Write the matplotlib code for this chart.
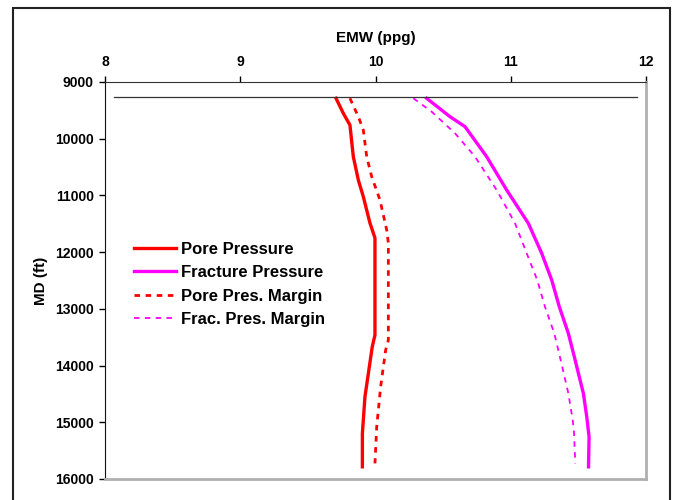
import matplotlib
matplotlib.use('Agg')
import matplotlib.pyplot as plt
from matplotlib.patches import Rectangle

plt.rcParams['font.family'] = ['Liberation Sans', 'DejaVu Sans']
plt.rcParams['font.weight'] = 'bold'

# depth (ft) and EMW (ppg)
pore_md = [9287, 9552, 9758, 10317, 10728, 11023, 11487, 11751, 13462, 13668, 14550, 15196, 15785]
pore_emw = [9.708, 9.762, 9.811, 9.836, 9.873, 9.910, 9.959, 9.996, 9.996, 9.976, 9.922, 9.903, 9.903]

frac_md = [9287, 9612, 9788, 10317, 10905, 11492, 12021, 12492, 12963, 13432, 13845,
           14490, 14903, 15256, 15785]
frac_emw = [10.378, 10.551, 10.662, 10.822, 10.970, 11.130, 11.229, 11.303, 11.359, 11.426,
            11.470, 11.537, 11.562, 11.579, 11.575]

pore_m_md = [9287, 9612, 9847, 10317, 10670, 11081, 11610, 11840, 13550, 13727, 14374,
             15079, 15725]
pore_m_emw = [9.811, 9.873, 9.910, 9.935, 9.972, 10.033, 10.083, 10.095, 10.095, 10.075,
              10.038, 10.009, 9.996]

frac_m_md = [9287, 9523, 9905, 10317, 10905, 11492, 12021, 12492, 12963, 13432, 13903,
             14490, 14961, 15196, 15725]
frac_m_emw = [10.280, 10.415, 10.588, 10.736, 10.896, 11.032, 11.118, 11.196, 11.253, 11.322,
              11.369, 11.426, 11.458, 11.468, 11.477]

ref_md = 9260
ref_emw = [8.07, 11.93]

x_ticks = [8, 9, 10, 11, 12]
y_ticks = [9000, 10000, 11000, 12000, 13000, 14000, 15000, 16000]

fig = plt.figure(figsize=(6.75, 5), dpi=100)
W, H = 675.0, 500.0

# outer frame
fig.patches.append(Rectangle((13 / W, -0.05), (670 - 13) / W, (500 - 8) / H + 0.05,
                             transform=fig.transFigure, fill=False,
                             edgecolor='#222222', linewidth=1.5))

ax = fig.add_axes([105 / W, 1 - 479 / H, (646 - 105) / W, (479 - 82) / H])

ax.plot(pore_emw, pore_md, color='#ff0000', linewidth=2.4, label='Pore Pressure')
ax.plot(frac_emw, frac_md, color='#ff00ff', linewidth=2.4, label='Fracture Pressure')
ax.plot(pore_m_emw, pore_m_md, color='#ff0000', linewidth=2.0, linestyle=(0, (2, 2)),
        label='Pore Pres. Margin')
ax.plot(frac_m_emw, frac_m_md, color='#ff00ff', linewidth=1.3, linestyle=(0, (3, 3)),
        label='Frac. Pres. Margin')
ax.plot(ref_emw, [ref_md, ref_md], color='#333333', linewidth=0.9)

ax.set_xlim(8, 12)
ax.set_ylim(16000, 9000)
ax.set_xticks(x_ticks)
ax.set_yticks(y_ticks)
ax.xaxis.tick_top()
ax.xaxis.set_label_position('top')
ax.tick_params(axis='both', direction='out', length=4, width=1, labelsize=10)
ax.tick_params(axis='x', pad=5)
ax.tick_params(axis='y', pad=4)
for lab in ax.get_xticklabels() + ax.get_yticklabels():
    lab.set_fontweight('bold')

ax.set_xlabel('EMW (ppg)', fontsize=11, fontweight='bold', labelpad=10)
ax.set_ylabel('MD (ft)', fontsize=11, fontweight='bold', labelpad=5)

ax.spines['top'].set_color('#333333')
ax.spines['left'].set_color('#111111')
ax.spines['right'].set_color('#b0b0b0')
ax.spines['bottom'].set_color('#b0b0b0')
ax.spines['right'].set_linewidth(2)
ax.spines['bottom'].set_linewidth(2)

leg = ax.legend(loc='upper left', bbox_to_anchor=(0.026, 0.635), frameon=False,
                prop={'size': 12, 'weight': 'bold'}, handlelength=2.5,
                handletextpad=0.3, labelspacing=0.5)

fig.savefig('out.png', dpi=100)
